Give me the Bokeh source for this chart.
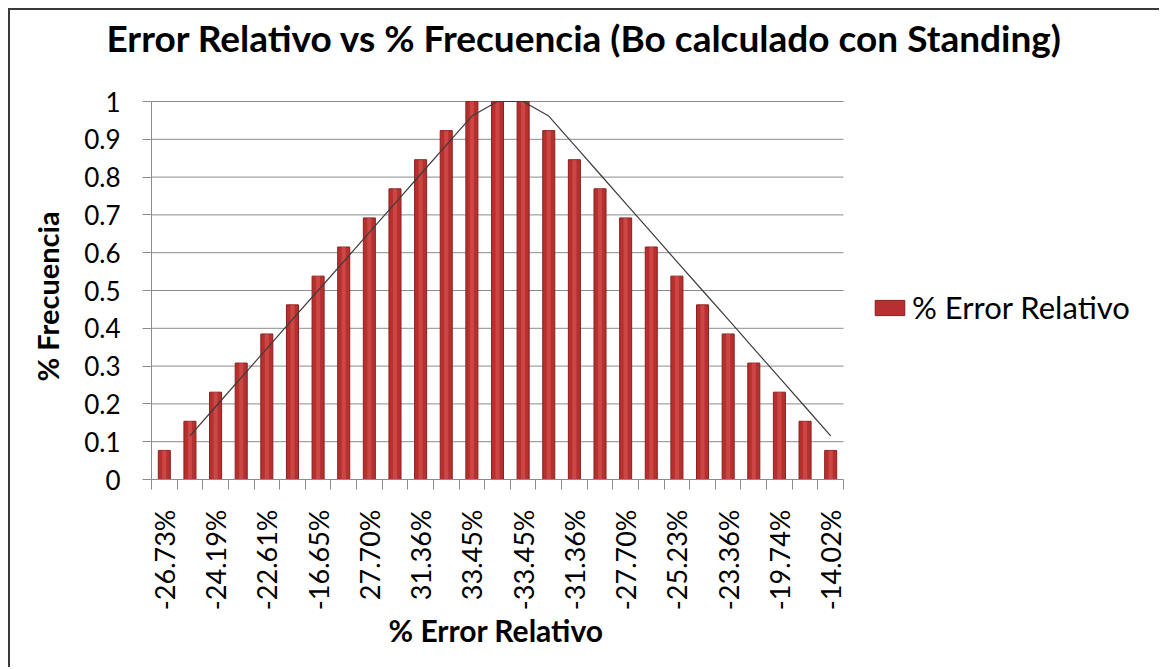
import math
from bokeh.plotting import figure
from bokeh.models import Range1d, FixedTicker, Legend, LegendItem, Title
from bokeh.embed import file_html
from bokeh.resources import INLINE

# ---- data ----
frecuencia = [0.077, 0.154, 0.231, 0.308, 0.385, 0.462, 0.538, 0.615, 0.692, 0.769,
              0.846, 0.923, 1.0, 1.0, 1.0, 0.923, 0.846, 0.769, 0.692, 0.615,
              0.538, 0.462, 0.385, 0.308, 0.231, 0.154, 0.077]
tick_labels = ["-26.73%", "-24.19%", "-22.61%", "-16.65%", "27.70%", "31.36%", "33.45%",
               "-33.45%", "-31.36%", "-27.70%", "-25.23%", "-23.36%", "-19.74%", "-14.02%"]
y_ticks = [0, 0.1, 0.2, 0.3, 0.4, 0.5, 0.6, 0.7, 0.8, 0.9, 1]
y_labels = ["0", "0.1", "0.2", "0.3", "0.4", "0.5", "0.6", "0.7", "0.8", "0.9", "1"]

n = len(frecuencia)
xs = list(range(n))
label_pos = xs[::2]
# 2-period moving average trendline (as in Excel)
ma_x = xs[1:]
ma_y = [(frecuencia[i - 1] + frecuencia[i]) / 2 for i in range(1, n)]

FONT = "Lato"
GRAY = "#8C8C8C"

# layout: plot area 692 x 378 px; the frame extends further right / up to hold
# the legend and leave room for the title
TOP = 50
PLOT_W, PLOT_H = 692, 378
FRAME_W, FRAME_H = 1008, 378 + (90 - TOP)
x_end = -0.5 + n * FRAME_W / PLOT_W
y_end = FRAME_H / PLOT_H

p = figure(frame_width=FRAME_W, frame_height=FRAME_H, output_backend="svg",
           toolbar_location=None,
           x_range=Range1d(-0.5, x_end), y_range=Range1d(0, y_end),
           min_border_left=141, min_border_right=0, min_border_top=TOP,
           min_border_bottom=188, background_fill_color="white",
           border_fill_color="white", outline_line_color=None)
p.styles = {"border-left": "2px solid #3a3a3a", "border-top": "2px solid #3a3a3a",
            "margin-left": "8px", "margin-top": "8px"}

title = Title(text="Error Relativo vs % Frecuencia (Bo calculado con Standing)",
              text_font=FONT, text_font_style="bold", text_font_size="37px",
              text_color="black", align="left", offset=-45, standoff=4)
p.add_layout(title, "above")

# horizontal gridlines
p.segment(x0=[-0.5] * len(y_ticks), x1=[n - 0.5] * len(y_ticks), y0=y_ticks, y1=y_ticks,
          line_color=GRAY, line_width=1, level="underlay")

bars = p.vbar(x=xs, top=frecuencia, width=0.47, bottom=0,
              fill_color="#B5302E", line_color="#8A2020", line_width=1)
p.vbar(x=xs, top=frecuencia, width=0.16, bottom=0,
       fill_color="#DE5A55", fill_alpha=0.55, line_color=None)
p.line(ma_x, ma_y, line_color="#3C3C3C", line_width=1.2)

# x axis
xa = p.xaxis[0]
xa.bounds = (-0.5, n - 0.5)
xa.ticker = FixedTicker(ticks=label_pos, minor_ticks=[x - 0.5 for x in xs] + [n - 0.5])
xa.major_label_overrides = {pos: lab for pos, lab in zip(label_pos, tick_labels)}
xa.major_label_orientation = math.pi / 2
xa.major_tick_out = 0
xa.major_tick_in = 0
xa.major_tick_line_color = None
xa.minor_tick_out = 10
xa.minor_tick_in = 0
xa.minor_tick_line_color = GRAY
xa.axis_line_color = GRAY
xa.major_label_standoff = 20
xa.major_label_text_font = FONT
xa.major_label_text_font_size = "27px"
xa.major_label_text_color = "black"

xtitle = Title(text="% Error Relativo", text_font=FONT, text_font_style="bold",
               text_font_size="30px", text_color="black", align="left",
               offset=237, vertical_align="top", standoff=-4)
p.add_layout(xtitle, "below")

# y axis
ya = p.yaxis[0]
ya.bounds = (0, 1)
ya.ticker = FixedTicker(ticks=y_ticks, minor_ticks=[])
ya.major_label_overrides = {t: l for t, l in zip(y_ticks, y_labels)}
ya.major_tick_out = 9
ya.major_tick_in = 0
ya.major_tick_line_color = GRAY
ya.minor_tick_line_color = None
ya.axis_line_color = GRAY
ya.major_label_standoff = 22
ya.major_label_text_font = FONT
ya.major_label_text_font_size = "26px"
ya.major_label_text_color = "black"

ytitle = Title(text="% Frecuencia", text_font=FONT, text_font_style="bold",
               text_font_size="29px", text_color="black", align="left",
               offset=98, standoff=34)
p.add_layout(ytitle, "left")

p.xgrid.grid_line_color = None
p.ygrid.grid_line_color = None

legend = Legend(items=[LegendItem(label="% Error Relativo", renderers=[bars])],
                location=(720, 153), orientation="vertical",
                glyph_width=37, glyph_height=19, label_height=19, label_standoff=4,
                padding=0, margin=0, spacing=0, border_line_color=None,
                background_fill_alpha=0, label_text_font=FONT,
                label_text_font_size="31px", label_text_color="black",
                label_text_baseline="middle")
p.add_layout(legend, "center")

open("out.html", "w").write(file_html(p, INLINE))
